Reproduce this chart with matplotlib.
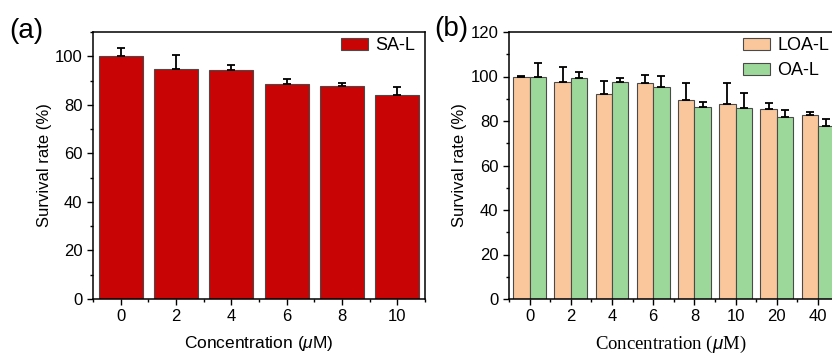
import numpy as np
import matplotlib.pyplot as plt
from matplotlib.ticker import MultipleLocator

plt.rcParams['font.family'] = ['Liberation Sans', 'DejaVu Sans']
plt.rcParams['mathtext.fontset'] = 'custom'
plt.rcParams['mathtext.it'] = 'Liberation Sans:italic'

# panel (a): SA-L
conc_a = ['0', '2', '4', '6', '8', '10']
sa_mean = [100.0, 94.8, 94.2, 88.7, 87.9, 84.0]
sa_err = [3.5, 5.7, 2.2, 1.9, 1.1, 3.5]

# panel (b): LOA-L and OA-L
conc_b = ['0', '2', '4', '6', '8', '10', '20', '40']
loa_mean = [99.6, 97.7, 92.1, 96.9, 89.3, 87.8, 85.3, 82.8]
loa_err = [0.6, 6.7, 5.7, 3.9, 7.6, 9.4, 2.7, 1.2]
oa_mean = [99.6, 99.2, 97.7, 95.1, 86.3, 86.0, 81.8, 77.6]
oa_err = [6.3, 2.7, 1.8, 5.1, 2.4, 6.4, 3.0, 3.2]

W, H = 832, 356
fig = plt.figure(figsize=(W / 100, H / 100), dpi=100)


def style_axis(ax, ymax, step):
    ax.set_ylim(0, ymax)
    ax.yaxis.set_major_locator(MultipleLocator(step))
    ax.yaxis.set_minor_locator(MultipleLocator(step / 2))
    ax.xaxis.set_minor_locator(MultipleLocator(1))
    ax.tick_params(which='both', direction='out', labelsize=12, width=1)
    ax.tick_params(which='major', length=4)
    ax.tick_params(which='minor', length=2)
    for s in ax.spines.values():
        s.set_linewidth(1.1)


ekw = dict(elinewidth=1.3, capthick=1.3, ecolor='black')
leg_kw = dict(frameon=False, fontsize=13, handlelength=1.5, handleheight=0.67,
              handletextpad=0.4, borderpad=0, borderaxespad=0, labelspacing=0.45,
              loc='upper left')

# (a)
ax1 = fig.add_axes([93 / W, 1 - 299 / H, (425 - 93) / W, (299 - 32) / H])
xa = np.arange(len(conc_a)) * 2.0
ax1.bar(xa, sa_mean, width=1.6, color='#c80405', edgecolor='#4a4a4a', linewidth=0.8,
        yerr=[np.zeros(len(sa_err)), sa_err], capsize=3, error_kw=ekw, label='SA-L')
ax1.set_xlim(-1, xa[-1] + 1)
ax1.set_xticks(xa)
ax1.set_xticklabels(conc_a)
style_axis(ax1, 110, 20)
ax1.set_ylabel('Survival rate (%)', fontsize=12, labelpad=2)
ax1.set_xlabel(r'Concentration ($\mathit{\mu}$M)', fontsize=12.5, labelpad=7)
ax1.legend(bbox_to_anchor=(341 / W, 1 - 37 / H), bbox_transform=fig.transFigure, **leg_kw)
fig.text(9 / W, 1 - 38 / H, '(a)', fontsize=20)

# (b)
ax2 = fig.add_axes([509 / W, 1 - 299 / H, (832 - 509) / W, (299 - 32) / H])
xb = np.arange(len(conc_b)) * 2.0
ax2.bar(xb - 0.4, loa_mean, width=0.8, color='#fac79c', edgecolor='#4a4a4a', linewidth=0.8,
        yerr=[np.zeros(len(loa_err)), loa_err], capsize=3, error_kw=ekw, label='LOA-L')
ax2.bar(xb + 0.4, oa_mean, width=0.8, color='#9dd89b', edgecolor='#4a4a4a', linewidth=0.8,
        yerr=[np.zeros(len(oa_err)), oa_err], capsize=3, error_kw=ekw, label='OA-L')
# right side of the frame is trimmed through the last green bar
ax2.set_xlim(-1, -1 + (832 - 509) / 20.6)
ax2.set_xticks(xb)
ax2.set_xticklabels(conc_b)
style_axis(ax2, 120, 20)
ax2.spines['right'].set_visible(False)
ax2.set_ylabel('Survival rate (%)', fontsize=12, labelpad=3)
ax2.set_xlabel(r'Concentration ($\mathit{\mu}$M)', fontsize=13.5, labelpad=7,
               family=['Liberation Serif'])
ax2.legend(bbox_to_anchor=(743 / W, 1 - 37 / H), bbox_transform=fig.transFigure, **leg_kw)
fig.text(434 / W, 1 - 36 / H, '(b)', fontsize=20)

fig.savefig('out.png', dpi=100)
